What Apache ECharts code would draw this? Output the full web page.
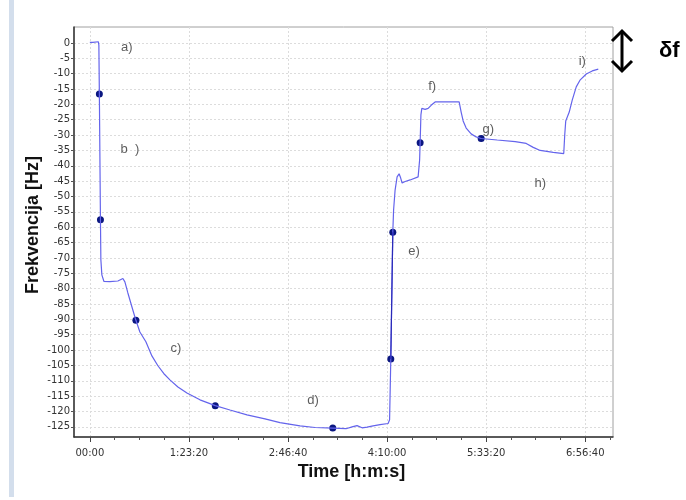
<!DOCTYPE html>
<html><head><meta charset="utf-8">
<script src="https://cdn.jsdelivr.net/npm/echarts@6/dist/echarts.min.js"></script>
<style>html,body{margin:0;padding:0;background:#fff}#c{width:686px;height:500px}</style>
</head><body><div id="c"></div>
<script>
// time in seconds, frequency deviation in Hz
const timeSec = [0,150,250,430,455,480,535,556,606,707,1010,1414,1667,1768,1919,2121,2323,2525,2828,3131,3434,3737,4040,4444,4899,5556,6328,7071,7929,8838,9596,10606,11364,12258,12929,13232,13485,13737,13990,14293,14646,15051,15126,15187,15288,15328,15404,15505,15606,15682,15758,15909,16162,16566,16641,16667,16707,16753,16919,17071,17222,17424,18636,18737,18838,18990,19242,19495,19747,20556,21465,22020,22374,22727,23384,23914,23965,24015,24192,24343,24545,24747,25050,25354,25657];
const freqHz = [0.2,0.2,0.4,0.4,-0.7,-16.6,-57.6,-70.6,-75.5,-77.6,-77.7,-77.5,-76.7,-77.8,-81.4,-85.9,-90.3,-94.1,-97.3,-101.9,-105.1,-107.7,-109.7,-112,-114,-116.2,-118.1,-119.5,-121.1,-122.4,-123.6,-124.7,-125.2,-125.4,-125.6,-125,-124.6,-125.3,-125.1,-124.7,-124.3,-123.9,-122.7,-102.9,-61.6,-54.4,-47.9,-43.6,-42.6,-43.9,-45.6,-45.1,-44.6,-43.6,-38.1,-32.5,-23.4,-21.3,-21.6,-21.3,-20.3,-19.2,-19.2,-22.5,-25.4,-27.7,-29.6,-30.6,-31.1,-31.6,-32.1,-32.7,-34,-35,-35.6,-36,-29.9,-25.4,-22.5,-18.6,-14.3,-12,-10.1,-9.1,-8.5];
const markerTime = [480,535,2323,6328,12258,15187,15288,16667,19747];
const markerFreq = [-16.6,-57.6,-90.3,-118.1,-125.4,-102.9,-61.6,-32.5,-31.1];
const noteText = ['a)','b  )','c)','d)','e)','f)','g)','h)','i)'];
const noteTime = [1869,2020,4343,11263,16364,17273,20101,22727,24848];
const noteFreq = [-1.3,-34.8,-99.6,-116.5,-68,-14.3,-28,-45.6,-5.9];
const xTicks = [0,5000,10000,15000,20000,25000];
const xMinorTicks = [1250,2500,3750,6250,7500,8750,11250,12500,13750,16250,17500,18750,21250,22500,23750,26250];
const yTicks = [0,-5,-10,-15,-20,-25,-30,-35,-40,-45,-50,-55,-60,-65,-70,-75,-80,-85,-90,-95,-100,-105,-110,-115,-120,-125];

function pad(n){return (n<10?'0':'')+n;}
function fmtTime(s){
  if(s===0) return '00:00';
  const h=Math.floor(s/3600), m=Math.floor((s%3600)/60), sec=s%60;
  return h+':'+pad(m)+':'+pad(sec);
}
const lineData = timeSec.map((t,i)=>[t,freqHz[i]]);
const markData = markerTime.map((t,i)=>[t,markerFreq[i]]);
const noteData = noteTime.map((t,i)=>({value:[t,noteFreq[i]],name:noteText[i]}));
const darkSeg = [[markerTime[5],markerFreq[5]],[markerTime[6],markerFreq[6]]];

const chart = echarts.init(document.getElementById('c'));
chart.setOption({
  animation:false,
  grid:{left:74,right:73,top:27,height:410,show:true,borderColor:'#a0a0a0',borderWidth:1},
  xAxis:[{
    type:'value',min:-800,max:26400,
    name:'Time [h:m:s]',nameLocation:'middle',nameGap:21,
    nameTextStyle:{fontFamily:'Liberation Sans',fontWeight:'bold',fontSize:18,color:'#111',padding:[0,0,0,16]},
    axisLine:{onZero:false,lineStyle:{color:'#333',width:1.5}},
    axisTick:{customValues:xTicks,length:5,lineStyle:{color:'#444'}},
    axisLabel:{customValues:xTicks,formatter:v=>fmtTime(v),fontFamily:'DejaVu Sans',fontSize:10,color:'#333',margin:11},
    splitLine:{show:true,lineStyle:{color:'#dcdcdc',type:[2,2]}}
  },{
    type:'value',min:-800,max:26400,position:'bottom',
    axisLine:{show:false,onZero:false},
    axisTick:{customValues:xMinorTicks,length:3,lineStyle:{color:'#555'}},
    axisLabel:{show:false},splitLine:{show:false}
  }],
  yAxis:{
    type:'value',min:-128.3,max:5.2,
    name:'Frekvencija [Hz]',nameLocation:'middle',nameGap:32,nameMoveOverlap:false,
    nameTextStyle:{fontFamily:'Liberation Sans',fontWeight:'bold',fontSize:18,color:'#111',padding:[0,0,0,14]},
    axisLine:{show:true,onZero:false,lineStyle:{color:'#333',width:1.5}},
    axisTick:{show:true,customValues:yTicks,length:3,lineStyle:{color:'#555'}},
    axisLabel:{customValues:yTicks,fontFamily:'DejaVu Sans',fontSize:10,color:'#333',margin:4},
    splitLine:{show:true,lineStyle:{color:'#dcdcdc',type:[2,2]}}
  },
  series:[
    {type:'line',data:lineData,showSymbol:false,lineStyle:{color:'#6464ec',width:1.2},silent:true},
    {type:'line',data:darkSeg,showSymbol:false,lineStyle:{color:'#2a2ab8',width:1.2},silent:true},
    {type:'scatter',data:markData,symbolSize:7,itemStyle:{color:'#0a1680',opacity:1},silent:true},
    {type:'scatter',data:noteData,symbolSize:0,silent:true,
     label:{show:true,position:'inside',formatter:p=>p.name,fontFamily:'Liberation Sans',fontSize:13,color:'#333'}}
  ],
  graphic:[
    {type:'rect',shape:{x:9,y:0,width:5,height:497},style:{fill:'#d3deec'}},
    {type:'line',shape:{x1:622,y1:31,x2:622,y2:71},style:{stroke:'#000',lineWidth:3}},
    {type:'polyline',shape:{points:[[612,41],[622,31],[632,41]]},style:{stroke:'#000',lineWidth:3,fill:null}},
    {type:'polyline',shape:{points:[[612,61],[622,71],[632,61]]},style:{stroke:'#000',lineWidth:3,fill:null}},
    {type:'text',left:659,top:40,style:{text:'δf',fontFamily:'Liberation Sans',fontWeight:'bold',fontSize:22,fill:'#000'}}
  ]
});
</script></body></html>
